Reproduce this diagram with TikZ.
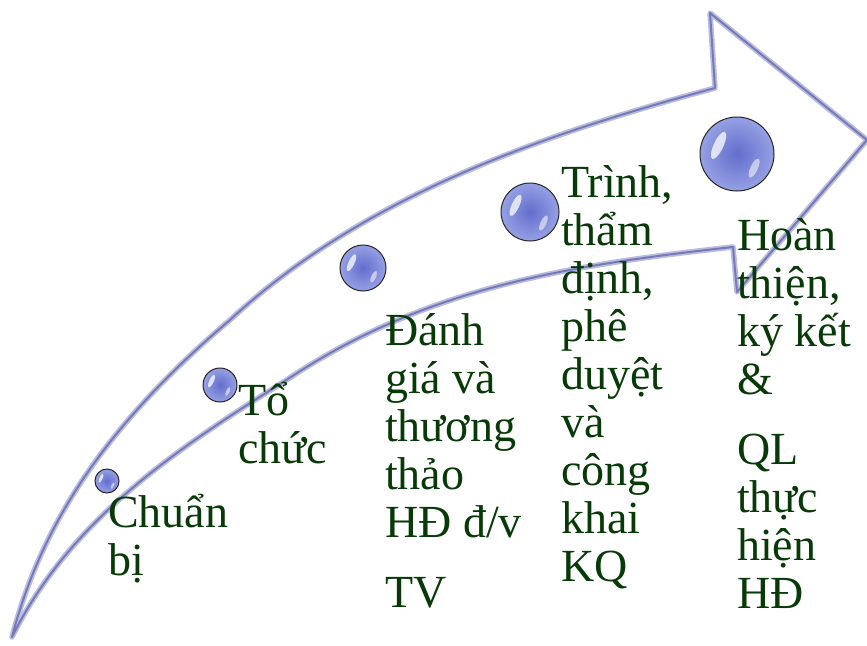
\documentclass[tikz,border=0pt]{standalone}
\usepackage{fontspec}
\setmainfont{Liberation Serif}

\definecolor{txtgreen}{RGB}{8,58,8}
\definecolor{rimblue}{RGB}{118,122,182}
\definecolor{haloblue}{RGB}{186,189,224}
\definecolor{orbcore}{RGB}{98,110,205}
\definecolor{orbedge}{RGB}{150,160,228}

\tikzset{
  arrowbody/.style={fill=white,
    postaction={draw=haloblue, line width=5.5pt, line join=round},
    postaction={draw=rimblue, line width=2pt, line join=round}},
  orb/.style={circle, inner sep=0pt, draw=black!85, line width=1pt,
    shading=radial, inner color=orbcore, outer color=orbedge},
  glint/.style={fill=white, opacity=.75},
  lbl/.style={anchor=base west, inner sep=0pt, text=txtgreen,
    font=\fontsize{46}{48}\selectfont},
}

% a glossy ball: name, x, y, radius
\newcommand\orbnode[4]{%
  \node[orb, minimum size=#4*2pt] (#1) at (#2,#3) {};
  \begin{scope}[shift={(#2,#3)}, rotate=-25]
    \path[glint] (-0.55*#4,0) ellipse ({0.13*#4} and {0.40*#4});
    \path[glint, opacity=.55] (0.58*#4,0.15*#4) ellipse ({0.10*#4} and {0.28*#4});
  \end{scope}
}
% left-aligned block of lines, baseline on the first line
\newcommand\stack[1]{\parbox[t]{6cm}{\raggedright #1}}

\begin{document}
\begin{tikzpicture}[x=1pt, y=-1pt]
\useasboundingbox (0,0) rectangle (867,645);

% curved arrow: upper edge, head, lower edge back to the tail
\path[arrowbody]
  (12,637) .. controls (40,530) and (100,430) .. (230,320)
           .. controls (370,190) and (560,130) .. (715,88)
  -- (710,13) -- (867,140) -- (737,292) -- (733,247)
           .. controls (560,266) and (420,290) .. (285,381)
           .. controls (175,450) and (70,520) .. (12,637)
  -- cycle;

% balls along the arrow
\orbnode{b1}{107}{481}{12}
\orbnode{b2}{220}{385}{17}
\orbnode{b3}{363}{268}{23}
\orbnode{b4}{530}{212}{29}
\orbnode{b5}{737}{154}{37}

% stage labels
\node[lbl] (prep) at (108,527) {\stack{Chuẩn\\bị}};
\node[lbl] (org)  at (238,415) {\stack{Tổ\\chức}};
\node[lbl] (eval) at (385,345) {\stack{Đánh\\giá và\\thương\\thảo\\HĐ đ/v\\[22pt]TV}};
\node[lbl] (appr) at (561,197) {\stack{Trình,\\thẩm\\định,\\phê\\duyệt\\và\\công\\khai\\KQ}};
\node[lbl] (done) at (737,250) {\stack{Hoàn\\thiện,\\ký kết\\\&\\[22pt]QL\\thực\\hiện\\HĐ}};
\end{tikzpicture}
\end{document}
